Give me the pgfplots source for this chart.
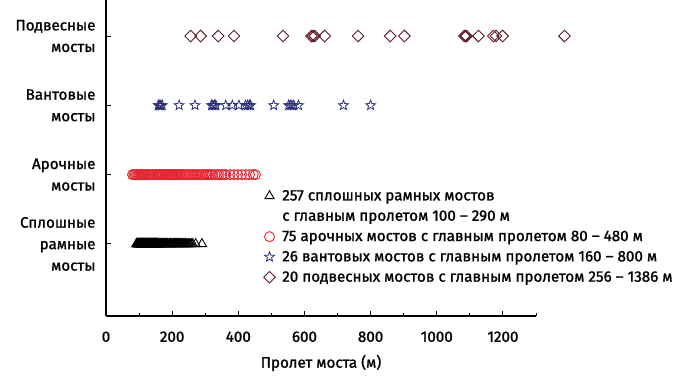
\documentclass[border=0pt]{standalone}
\usepackage{pgfplots}
\pgfplotsset{compat=1.18}
\usepackage{pgfplotstable}
\usepackage{fontspec}
\setmainfont{Fira Sans}[FakeBold=1.2]
\definecolor{archred}{HTML}{E3262F}
\definecolor{starblue}{HTML}{2B2F7A}
\definecolor{diamred}{HTML}{5E1B28}
\newcommand\fs{\fontsize{15.2bp}{21.5bp}\selectfont}
\pgfdeclareplotmark{ostar}{%
  \pgfpathmoveto{\pgfpointpolar{90}{\pgfplotmarksize}}%
  \pgfpathlineto{\pgfpointpolar{126}{0.42\pgfplotmarksize}}%
  \pgfpathlineto{\pgfpointpolar{162}{\pgfplotmarksize}}%
  \pgfpathlineto{\pgfpointpolar{198}{0.42\pgfplotmarksize}}%
  \pgfpathlineto{\pgfpointpolar{234}{\pgfplotmarksize}}%
  \pgfpathlineto{\pgfpointpolar{270}{0.42\pgfplotmarksize}}%
  \pgfpathlineto{\pgfpointpolar{306}{\pgfplotmarksize}}%
  \pgfpathlineto{\pgfpointpolar{342}{0.42\pgfplotmarksize}}%
  \pgfpathlineto{\pgfpointpolar{18}{\pgfplotmarksize}}%
  \pgfpathlineto{\pgfpointpolar{54}{0.42\pgfplotmarksize}}%
  \pgfpathclose\pgfusepathqstroke}
% frame bridges (triangles)
\pgfplotstableread[header=false,row sep=\\]{
92\\93\\94\\95\\96\\96.5\\97\\98\\99\\100\\100\\100\\100.5\\101\\102\\103\\104\\104.5\\105\\105\\106\\107\\108\\108.5\\109\\110\\110\\110\\111\\112\\112.5\\113\\114\\115\\115\\116\\116.5\\117\\118\\119\\120\\120\\120\\120.5\\121\\122\\123\\124\\124.5\\125\\125\\126\\127\\128\\128.5\\129\\130\\130\\130\\131\\132\\132.5\\133\\134\\135\\135\\136\\136.5\\137\\138\\139\\140\\140\\140\\140.5\\141\\142\\143\\144\\144.5\\145\\145\\146\\147\\148\\148.5\\149\\150\\150\\150\\150\\151\\152\\152.5\\153\\154\\155\\155\\156\\157\\158\\
160\\161\\163\\165\\166\\168\\170\\170\\172\\175\\176\\178\\180\\180\\182\\185\\186\\190\\192\\195\\196\\200\\200\\202\\205\\207\\210\\213\\215\\218\\220\\222\\225\\228\\230\\234\\238\\240\\244\\248\\250\\254\\258\\262\\271\\290\\
}\frametab
% arch bridges (circles)
\pgfplotstableread[header=false,row sep=\\]{
80\\84\\88\\92\\96\\99\\102\\105\\108\\111\\114\\117\\120\\124\\128\\131\\135\\140\\145\\150\\154\\157\\160\\163\\166\\170\\174\\178\\181\\185\\188\\191\\195\\198\\201\\204\\207\\211\\214\\218\\222\\226\\230\\235\\241\\245\\250\\256\\262\\266\\271\\276\\282\\288\\292\\298\\304\\307\\312\\318\\322\\330\\337\\342\\350\\357\\362\\375\\387\\398\\410\\422\\434\\445\\452\\
}\archtab
% cable-stayed bridges (stars)
\pgfplotstableread[header=false,row sep=\\]{
158\\160\\163\\166\\170\\221\\269\\319\\323\\328\\332\\362\\382\\402\\422\\428\\433\\437\\507\\552\\557\\562\\568\\582\\718\\800\\
}\stayedtab
% suspension bridges (diamonds)
\pgfplotstableread[header=false,row sep=\\]{
256\\286\\339\\387\\535\\621\\626\\631\\661\\762\\859\\902\\1083\\1087\\1090\\1126\\1171\\1179\\1199\\1386\\
}\susptab
\begin{document}
\begin{tikzpicture}[x=1bp,y=1bp]
\begin{axis}[
  at={(106bp,73bp)}, anchor=south west,
  scale only axis, width=430bp, height=316bp,
  xmin=0, xmax=1300, ymin=-0.04, ymax=4.52,
  axis x line*=bottom, axis y line*=left,
  axis line style={-, line width=1.4bp, black},
  xtick={0,200,...,1200}, minor xtick={100,300,...,1300},
  ytick={1,2,3,4},
  yticklabels={{Сплошные\\рамные\\мосты},{Арочные\\мосты},{Вантовые\\мосты},{Подвесные\\мосты}},
  yticklabel style={align=right, font=\fs, xshift=-7bp},
  xticklabel style={font=\fs, yshift=-12bp},
  /pgf/number format/assume math mode=true,
  /pgf/number format/set thousands separator={},
  tick align=inside,
  major tick length=5bp, minor tick length=3bp,
  tick style={black, line width=1bp},
  xlabel={Пролет моста (м)},
  xlabel style={font=\fs, yshift=-6bp},
  clip=false,
  legend cell align=left,
  legend style={draw=none, fill=none, font=\fs, at={(0.36,0.399)}, anchor=north west,
    row sep=8.5bp, column sep=7bp, inner sep=0bp, nodes={inner sep=0bp}},
]
\addplot[only marks, mark=triangle, mark size=5.3bp, mark options={black, line width=0.9bp}]
  table[x index=0, y index=0, y expr=1] {\frametab};
\addlegendentry{257 сплошных рамных мостов}
\addlegendimage{empty legend}
\addlegendentry{с главным пролетом 100 -- 290 м}
\addplot[only marks, mark=o, mark size=5bp, mark options={archred, line width=0.9bp}]
  table[x index=0, y index=0, y expr=2] {\archtab};
\addlegendentry{75 арочных мостов с главным пролетом 80 -- 480 м}
\addplot[only marks, mark=ostar, mark size=5.2bp, mark options={starblue, line width=0.8bp}]
  table[x index=0, y index=0, y expr=3] {\stayedtab};
\addlegendentry{26 вантовых мостов с главным пролетом 160 -- 800 м}
\addplot[only marks, mark=square, mark size=4.1bp, mark options={diamred, rotate=45, line width=0.9bp}]
  table[x index=0, y index=0, y expr=4] {\susptab};
\addlegendentry{20 подвесных мостов с главным пролетом 256 -- 1386 м}
\end{axis}
\pgfresetboundingbox
\path[use as bounding box] (0,0) rectangle (688,389);
\end{tikzpicture}
\end{document}
